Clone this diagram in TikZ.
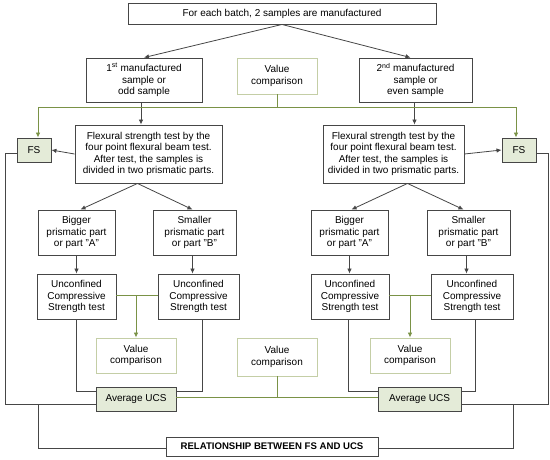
\documentclass[tikz,border=0pt]{standalone}
\usepackage{fontspec}
\setmainfont{Liberation Sans}
\usetikzlibrary{arrows.meta,calc}
\definecolor{boxline}{RGB}{70,70,70}
\definecolor{greenline}{RGB}{122,146,70}
\definecolor{paleline}{RGB}{196,206,166}
\definecolor{greenfill}{RGB}{228,235,216}

\begin{document}
\begin{tikzpicture}[x=1pt, y=-1pt, line width=0.8pt,
                    >={Latex[length=5pt,width=4.5pt]},
                    every node/.style={font=\fontsize{10}{11.5}\selectfont},
                    box/.style={draw=boxline, line width=0.9pt, align=center,
                                inner sep=0pt},
                    valbox/.style={draw=paleline, line width=0.9pt, align=center,
                                   inner sep=0pt, minimum width=80pt},
                    resbox/.style={box, fill=greenfill},
                    link/.style={draw=boxline},
                    glink/.style={draw=greenline}]
  \useasboundingbox (0,0) rectangle (550,459);
  % top of the chart
  \node[box, minimum width=308pt, minimum height=21pt] (batch) at (282,13.5)
       {For each batch, 2 samples are manufactured};
  \node[box, minimum width=116pt, minimum height=44pt] (odd) at (144,80)
       {1\textsuperscript{st} manufactured\\ sample or\\ odd sample};
  \node[valbox, minimum height=36pt] (cmp0) at (277,76) {Value\\ comparison};
  \node[box, minimum width=113pt, minimum height=44pt] (even) at (415.5,80)
       {2\textsuperscript{nd} manufactured\\ sample or\\ even sample};
  % flexural test and FS
  \node[box, minimum width=147pt, minimum height=58pt] (flex1) at (148.5,154)
       {Flexural strength test by the\\ four point flexural beam test.\\
        After test, the samples is\\ divided in two prismatic parts.};
  \node[box, minimum width=141pt, minimum height=58pt] (flex2) at (393.5,154)
       {Flexural strength test by the\\ four point flexural beam test.\\
        After test, the samples is\\ divided in two prismatic parts.};
  \node[resbox, minimum width=34pt, minimum height=24pt] (fs1) at (34,150) {FS};
  \node[resbox, minimum width=34pt, minimum height=24pt] (fs2) at (519,150) {FS};
  % prismatic parts
  \node[box, minimum width=77pt, minimum height=45pt] (big1) at (76.5,232.5)
       {Bigger\\ prismatic part\\ or part "A"};
  \node[box, minimum width=83pt, minimum height=45pt] (small1) at (194.5,232.5)
       {Smaller\\ prismatic part\\ or part "B"};
  \node[box, minimum width=77pt, minimum height=45pt] (big2) at (349.5,232.5)
       {Bigger\\ prismatic part\\ or part "A"};
  \node[box, minimum width=83pt, minimum height=45pt] (small2) at (468.5,232.5)
       {Smaller\\ prismatic part\\ or part "B"};
  % UCS tests
  \node[box, minimum width=79pt, minimum height=45pt] (ucs1) at (76.5,296.5)
       {Unconfined\\ Compressive\\ Strength test};
  \node[box, minimum width=81pt, minimum height=45pt] (ucs2) at (198.5,296.5)
       {Unconfined\\ Compressive\\ Strength test};
  \node[box, minimum width=78pt, minimum height=45pt] (ucs3) at (350,296.5)
       {Unconfined\\ Compressive\\ Strength test};
  \node[box, minimum width=82pt, minimum height=45pt] (ucs4) at (472,296.5)
       {Unconfined\\ Compressive\\ Strength test};
  \node[valbox, minimum height=35pt] (cmp1) at (136,355.5) {Value\\ comparison};
  \node[valbox, minimum height=38pt] (cmp3) at (277,357) {Value\\ comparison};
  \node[valbox, minimum height=35pt] (cmp2) at (410,355.5) {Value\\ comparison};
  \node[resbox, minimum width=80pt, minimum height=24pt] (avg1) at (136,399)
       {Average UCS};
  \node[resbox, minimum width=83pt, minimum height=24pt] (avg2) at (419.5,399)
       {Average UCS};
  \node[box, minimum width=212pt, minimum height=19pt,
        font=\fontsize{9.6}{11}\selectfont\bfseries] (rel) at (272,446.5)
       {RELATIONSHIP BETWEEN FS AND UCS};
  % black arrows
  \draw[link, ->] (batch.south) -- (odd.north);
  \draw[link, ->] (batch.south) -- ([xshift=-5pt]even.north);
  \draw[link, ->] ([xshift=-3pt]odd.south) -- ([xshift=-3pt]odd.south |- flex1.north);
  \draw[link, ->] ([xshift=-1pt]even.south) -- ([xshift=-1pt]even.south |- flex2.north);
  \draw[link, ->] (flex1.west) -- (fs1.east);
  \draw[link, ->] (flex2.east) -- (fs2.west);
  \draw[link, ->] ([xshift=-11pt]flex1.south) -- ([xshift=4pt]big1.north);
  \draw[link, ->] ([xshift=-11pt]flex1.south) -- ([xshift=-2pt]small1.north);
  \draw[link, ->] ([xshift=14pt]flex2.south) -- ([xshift=2pt]big2.north);
  \draw[link, ->] ([xshift=14pt]flex2.south) -- ([xshift=-5pt]small2.north);
  \foreach \a/\b in {big1/ucs1, big2/ucs3}
    \draw[link, ->] (\a.south) -- (\a.south |- \b.north);
  \draw[link, ->] ([xshift=-2pt]small1.south) -- ([xshift=-2pt]small1.south |- ucs2.north);
  \draw[link, ->] ([xshift=-2pt]small2.south) -- ([xshift=-2pt]small2.south |- ucs4.north);
  % green comparison lines
  \draw[glink] (cmp0.south) -- ++(0,13) coordinate (cmpj);
  \draw[glink, ->, >={Latex[length=5pt,width=4.5pt,color=greenline]}]
       (cmpj) -| ([xshift=4pt]fs1.north);
  \draw[glink, ->, >={Latex[length=5pt,width=4.5pt,color=greenline]}]
       (cmpj) -| ([xshift=-3pt]fs2.north);
  \draw[glink] ([yshift=1.5pt]ucs1.east) -- ([yshift=1.5pt]ucs2.west);
  \draw[glink, ->, >={Latex[length=5pt,width=4.5pt,color=greenline]}]
       ([yshift=1.5pt]ucs1.east -| cmp1.north) -- (cmp1.north);
  \draw[glink] ([yshift=1.5pt]ucs3.east) -- ([yshift=1.5pt]ucs4.west);
  \draw[glink, ->, >={Latex[length=5pt,width=4.5pt,color=greenline]}]
       ([yshift=1.5pt]ucs3.east -| cmp2.north) -- (cmp2.north);
  \draw[glink] ([yshift=2pt]avg1.east) -- ([yshift=2pt]avg2.west);
  \draw[glink] (cmp3.south) -- ([yshift=2pt]cmp3.south |- avg1.east);
  % UCS results into the averages
  \draw[link] (ucs1.south) |- ([yshift=8pt]avg1.west);
  \draw[link] ([xshift=3.5pt]ucs2.south) |- ([yshift=8pt]avg1.east);
  \draw[link] ([xshift=-2pt]ucs3.south) |- ([yshift=8pt]avg2.west);
  \draw[link] ([xshift=3pt]ucs4.south) |- ([yshift=8pt]avg2.east);
  % FS with average UCS to the relationship
  \coordinate (fsl) at (5,404);
  \coordinate (fsr) at (548,404);
  \draw[link] ([yshift=-3pt]fs1.west) -| (fsl) -- ([yshift=-5pt]avg1.west);
  \draw[link] ([yshift=-3pt]fs2.east) -| (fsr) -- ([yshift=-5pt]avg2.east);
  \draw[link] (38,404) |- ([yshift=-1.5pt]rel.west);
  \draw[link] (513,404) |- ([yshift=-1.5pt]rel.east);
\end{tikzpicture}
\end{document}
